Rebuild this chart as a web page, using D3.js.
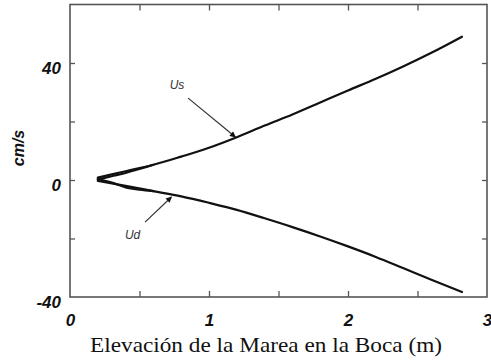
<!DOCTYPE html>
<html><head><meta charset="utf-8">
<script src="https://cdn.jsdelivr.net/npm/d3@7"></script>
<style>body{margin:0;background:#fff}svg{display:block}</style>
</head><body><svg id="c" width="491" height="360"></svg>
<script>
const elevation = [0.2, 0.4, 0.6, 0.8, 1.0, 1.2, 1.4, 1.6, 1.8, 2.0, 2.2, 2.4, 2.6, 2.82];
const usValues  = [0.8, 3.0, 5.2, 8.0, 11.0, 14.6, 18.6, 22.4, 26.5, 30.6, 34.6, 38.9, 43.5, 49.0];
const udValues  = [-0.3, -2.0, -3.8, -5.6, -7.8, -10.2, -13.1, -16.1, -19.3, -22.7, -26.3, -30.2, -34.1, -38.3];
// second, nearly overlapping run near the start (thick part of the curves)
const elevationStart = [0.2, 0.3, 0.4, 0.5, 0.6];
const usStartValues  = [0.2, 1.3, 2.4, 3.8, 5.2];
const udStartValues  = [0.3, -0.9, -2.5, -3.3, -3.8];
const xTicks = [0, 1, 2, 3];
const xMinorTicks = [0.5, 1, 1.5, 2, 2.5];
const yTicks = [40, 0, -40];
const yMinorTicks = [40, 20, 0, -20];
const annotations = [
  {label: "Us", lx: 0.77, ly: 32.5, tx: 0.85, ty: 28.0, hx: 1.19, hy: 14.7},
  {label: "Ud", lx: 0.45, ly: -18.8, tx: 0.54, ty: -14.4, hx: 0.73, hy: -5.8}
];

const svg = d3.select("#c");
const x = d3.scaleLinear().domain([0, 3]).range([70, 487]);
const y = d3.scaleLinear().domain([-40, 60]).range([297, 4.5]);

const frameColor = "#555";
svg.append("rect").attr("x", x(0)).attr("y", y(60)).attr("width", x(3) - x(0)).attr("height", y(-40) - y(60))
  .attr("fill", "none").attr("stroke", frameColor).attr("stroke-width", 1.6);

const axB = svg.append("g").attr("transform", `translate(0,${y(-40)})`)
  .call(d3.axisTop(x).tickValues(xMinorTicks).tickSize(6).tickFormat(""));
const axT = svg.append("g").attr("transform", `translate(0,${y(60)})`)
  .call(d3.axisBottom(x).tickValues(xMinorTicks).tickSize(6).tickFormat(""));
const axL = svg.append("g").attr("transform", `translate(${x(0)},0)`)
  .call(d3.axisRight(y).tickValues(yMinorTicks).tickSize(5).tickFormat(""));
const axR = svg.append("g").attr("transform", `translate(${x(3)},0)`)
  .call(d3.axisLeft(y).tickValues(yMinorTicks).tickSize(5).tickFormat(""));
[axB, axT, axL, axR].forEach(g => {
  g.select(".domain").remove();
  g.selectAll("line").attr("stroke", frameColor).attr("stroke-width", 1.3);
});

const labFont = "'Liberation Sans', Arial, sans-serif";
const axBL = svg.append("g").attr("transform", `translate(0,${y(-40) + 14})`)
  .call(d3.axisBottom(x).tickValues(xTicks).tickSize(0).tickFormat(d => String(d)));
axBL.select(".domain").remove();
axBL.selectAll("text").attr("font-family", labFont).attr("font-size", 17).attr("font-weight", "bold")
  .attr("font-style", "italic").attr("fill", "#111").attr("dy", "0.71em");

const axLL = svg.append("g").attr("transform", `translate(${x(0) - 6},5)`)
  .call(d3.axisLeft(y).tickValues(yTicks).tickSize(0).tickFormat(d => String(d)));
axLL.select(".domain").remove();
axLL.selectAll("text").attr("font-family", labFont).attr("font-size", 17).attr("font-weight", "bold")
  .attr("font-style", "italic").attr("fill", "#111");

svg.append("text").attr("transform", "translate(24,148) rotate(-90)").attr("text-anchor", "middle")
  .attr("font-family", labFont).attr("font-size", 16).attr("font-weight", "bold").attr("font-style", "italic")
  .attr("fill", "#111").text("cm/s");
svg.append("text").attr("x", 266).attr("y", 352).attr("text-anchor", "middle")
  .attr("font-family", "'Liberation Serif', 'Times New Roman', serif").attr("font-size", 21)
  .attr("textLength", 352).attr("lengthAdjust", "spacingAndGlyphs")
  .attr("fill", "#111").text("Elevación de la Marea en la Boca (m)");

const line = d3.line().x(d => x(d[0])).y(d => y(d[1])).curve(d3.curveMonotoneX);
const series = [
  [elevation, usValues], [elevation, udValues],
  [elevationStart, usStartValues], [elevationStart, udStartValues]
];
series.forEach(([xs, ys]) => {
  svg.append("path").datum(xs.map((v, i) => [v, ys[i]])).attr("d", line)
    .attr("fill", "none").attr("stroke", "#111").attr("stroke-width", 2.2).attr("stroke-linecap", "round");
});

svg.append("defs").append("marker").attr("id", "ah").attr("viewBox", "0 0 10 10").attr("refX", 9).attr("refY", 5)
  .attr("markerWidth", 9).attr("markerHeight", 6).attr("markerUnits", "userSpaceOnUse").attr("orient", "auto")
  .append("path").attr("d", "M0,0 L10,5 L0,10 z").attr("fill", "#111");
annotations.forEach(a => {
  svg.append("line").attr("x1", x(a.tx)).attr("y1", y(a.ty)).attr("x2", x(a.hx)).attr("y2", y(a.hy))
    .attr("stroke", "#333").attr("stroke-width", 1.2).attr("marker-end", "url(#ah)");
  svg.append("text").attr("x", x(a.lx)).attr("y", y(a.ly)).attr("text-anchor", "middle").attr("dy", "0.35em")
    .attr("font-family", labFont).attr("font-size", 12).attr("font-style", "italic").attr("fill", "#333").text(a.label);
});
</script></body></html>
